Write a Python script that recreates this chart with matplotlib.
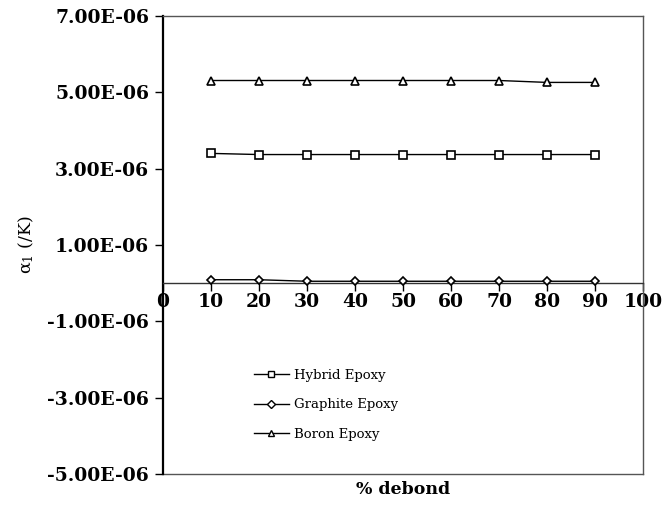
import matplotlib
matplotlib.use("Agg")
import matplotlib.pyplot as plt
from matplotlib.ticker import FuncFormatter, MultipleLocator

debond = [10, 20, 30, 40, 50, 60, 70, 80, 90]
hybrid = [3.40e-6, 3.37e-6, 3.37e-6, 3.37e-6, 3.37e-6, 3.37e-6, 3.37e-6, 3.37e-6, 3.37e-6]
graphite = [0.09e-6, 0.09e-6, 0.05e-6, 0.05e-6, 0.05e-6, 0.05e-6, 0.05e-6, 0.05e-6, 0.05e-6]
boron = [5.31e-6, 5.31e-6, 5.31e-6, 5.31e-6, 5.31e-6, 5.31e-6, 5.31e-6, 5.26e-6, 5.26e-6]
labels = ["Hybrid Epoxy", "Graphite Epoxy", "Boron Epoxy"]

plt.rcParams['font.family'] = ['DejaVu Serif']
plt.rcParams['mathtext.fontset'] = 'dejavuserif'

fig = plt.figure(figsize=(6.7, 5.11), dpi=100)
ax = fig.add_axes([163/670, 37/511, 480/670, 458/511])

common = dict(color='black', lw=1.0, markersize=6, markerfacecolor='white',
              markeredgecolor='black', markeredgewidth=1.2, clip_on=False, zorder=3)
ax.plot(debond, hybrid, marker='s', label=labels[0], **common)
ax.plot(debond, graphite, marker='D', label=labels[1], **{**common, 'markersize': 4.5})
ax.plot(debond, boron, marker='^', label=labels[2], **common)

ax.set_xlim(0, 100)
ax.set_ylim(-5e-6, 7e-6)
ax.xaxis.set_major_locator(MultipleLocator(10))
ax.set_yticks([-5e-6, -3e-6, -1e-6, 1e-6, 3e-6, 5e-6, 7e-6])
ax.yaxis.set_major_formatter(FuncFormatter(lambda v, p: f"{v:.2E}"))

ax.spines['bottom'].set_position(('data', 0))
ax.spines['bottom'].set_color('#333333')
ax.spines['bottom'].set_linewidth(1.0)
ax.spines['left'].set_linewidth(1.6)
ax.spines['left'].set_color('black')
for s in ['top', 'right']:
    ax.spines[s].set_color('#555555')
    ax.spines[s].set_linewidth(1.0)
ax.axhline(-5e-6, color='#555555', lw=1.0, clip_on=False)

ax.tick_params(axis='y', direction='out', length=6, width=1, pad=4,
               labelsize=13.5)
ax.tick_params(axis='x', direction='out', length=6, width=1, pad=1,
               labelsize=13.5)
for t in ax.get_yticklabels() + ax.get_xticklabels():
    t.set_fontweight('bold')

ax.set_xlabel('% debond', fontsize=12.5, fontweight='bold')
ax.xaxis.set_label_coords(0.5, -0.015)
ax.set_ylabel('α$_1$ (/K)', fontsize=12.5)
ax.yaxis.set_label_coords(-0.265, 0.5)

leg = ax.legend(loc='center left', bbox_to_anchor=(0.178, 0.151), frameon=False,
                fontsize=9.5, handlelength=2.65, handletextpad=0.4,
                labelspacing=1.25, borderaxespad=0)
for h in leg.legend_handles:
    h.set_markersize(4.5)
    h.set_markeredgewidth(1.0)

fig.savefig('out.png', dpi=100)
